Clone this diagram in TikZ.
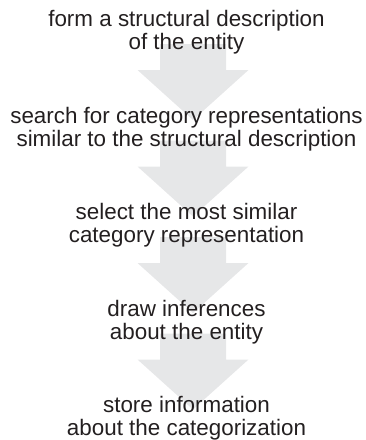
\documentclass[tikz,border=0pt]{standalone}
\usepackage{fontspec}
\setmainfont{Liberation Sans}
\definecolor{arrowgray}{HTML}{E6E7E8}
\definecolor{textdark}{HTML}{231F20}
\begin{document}
\begin{tikzpicture}[x=1pt,y=-1pt,
  stepbox/.style={align=center, inner sep=0pt, anchor=base, text=textdark,
    font=\fontsize{22.4pt}{23pt}\selectfont},
  fatarrow/.style={fill=arrowgray, draw=none}]
\useasboundingbox (0,0) rectangle (366,440);
% fat arrows behind the text
\foreach \t in {44,140.5,237,333.5}{
  \fill[fatarrow] (160,\t) -- (226,\t) -- (226,\t+26) -- (248.5,\t+26)
     -- (193,\t+76) -- (137.5,\t+26) -- (160,\t+26) -- cycle;
}
\node[stepbox] (s1) at (186.5,49.5) {form a structural description\\of the entity};
\node[stepbox] (s2) at (186.5,146) {search for category representations\\similar to the structural description};
\node[stepbox] (s3) at (186.5,242.5) {select the most similar\\category representation};
\node[stepbox] (s4) at (186.5,339) {draw inferences\\about the entity};
\node[stepbox] (s5) at (186.5,435.5) {store information\\about the categorization};
\end{tikzpicture}
\end{document}
